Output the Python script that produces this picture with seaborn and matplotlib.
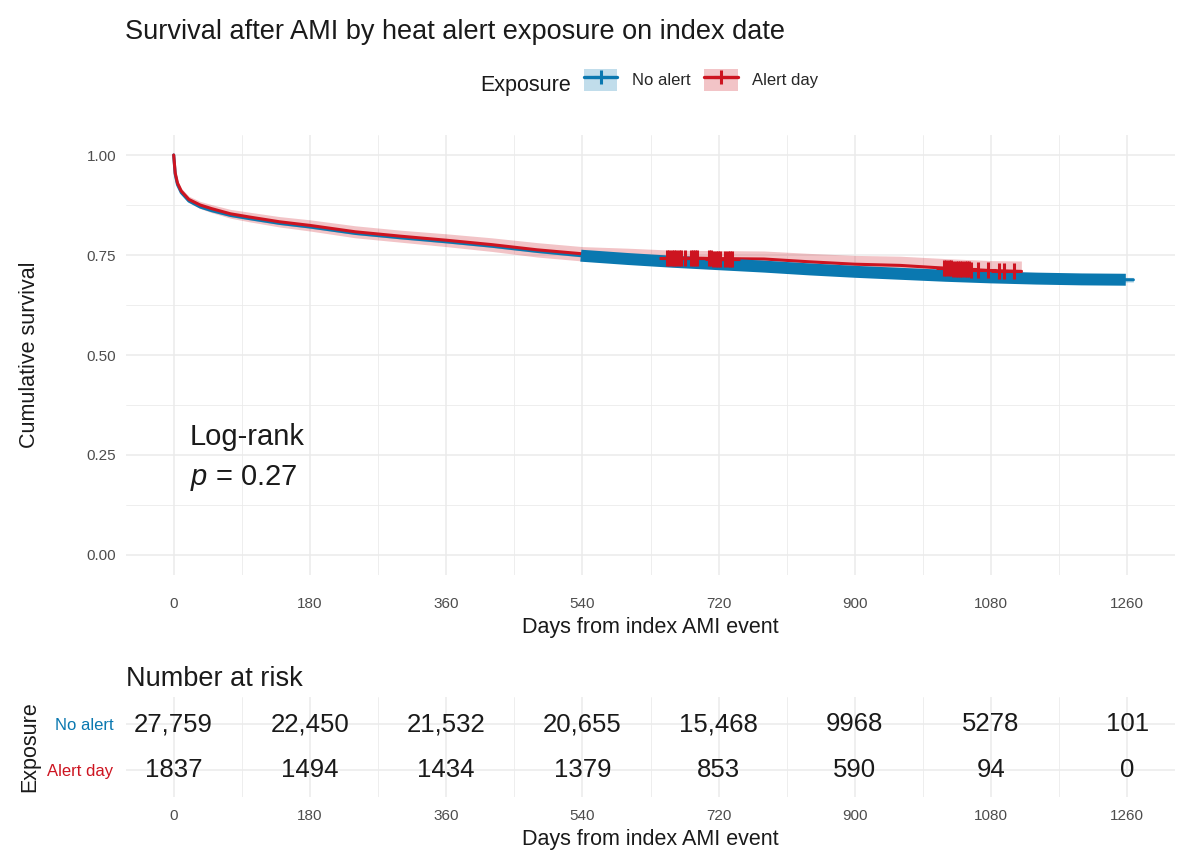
import numpy as np
import matplotlib
matplotlib.use("Agg")
import matplotlib.pyplot as plt
from matplotlib.patches import Patch
from matplotlib.lines import Line2D
import seaborn as sns

# Kaplan-Meier estimates
days_no_alert = [0, 2, 5, 10, 20, 35, 50, 75, 100, 140, 180, 240, 300, 360, 420, 480,
                 540, 600, 660, 720, 780, 840, 900, 960, 1020, 1080, 1140, 1200, 1268]
surv_no_alert = [1.000, 0.952, 0.926, 0.906, 0.885, 0.870, 0.861, 0.849, 0.841, 0.829,
                 0.820, 0.804, 0.793, 0.783, 0.772, 0.759, 0.748, 0.740, 0.733, 0.727,
                 0.721, 0.714, 0.708, 0.703, 0.698, 0.694, 0.691, 0.689, 0.688]
upper_no_alert = [1.000, 0.954, 0.928, 0.908, 0.887, 0.873, 0.864, 0.852, 0.844, 0.832,
                  0.823, 0.807, 0.796, 0.786, 0.775, 0.762, 0.751, 0.744, 0.737, 0.731,
                  0.725, 0.718, 0.712, 0.708, 0.703, 0.699, 0.696, 0.695, 0.694]
lower_no_alert = [1.000, 0.950, 0.924, 0.904, 0.883, 0.867, 0.858, 0.846, 0.838, 0.826,
                  0.817, 0.801, 0.790, 0.780, 0.769, 0.756, 0.745, 0.736, 0.729, 0.723,
                  0.717, 0.710, 0.704, 0.698, 0.693, 0.689, 0.686, 0.683, 0.682]
# dense censoring of the no-alert group (thousands of marks) spans this window
censor_span_no_alert = [538, 1258]

days_alert = [0, 2, 5, 10, 20, 35, 50, 75, 100, 140, 180, 240, 300, 360, 420, 480,
              540, 600, 660, 720, 780, 840, 900, 960, 1020, 1080, 1120]
surv_alert = [1.000, 0.955, 0.930, 0.910, 0.889, 0.875, 0.866, 0.853, 0.845, 0.833,
              0.824, 0.808, 0.797, 0.787, 0.776, 0.763, 0.753, 0.748, 0.743, 0.741,
              0.740, 0.733, 0.727, 0.724, 0.717, 0.711, 0.709]
upper_alert = [1.000, 0.960, 0.936, 0.917, 0.897, 0.884, 0.876, 0.864, 0.857, 0.846,
               0.838, 0.823, 0.812, 0.803, 0.793, 0.781, 0.771, 0.767, 0.762, 0.761,
               0.760, 0.754, 0.749, 0.747, 0.741, 0.736, 0.735]
lower_alert = [1.000, 0.950, 0.924, 0.903, 0.881, 0.866, 0.856, 0.842, 0.833, 0.820,
               0.810, 0.793, 0.782, 0.771, 0.759, 0.745, 0.735, 0.729, 0.724, 0.721,
               0.720, 0.712, 0.705, 0.701, 0.693, 0.686, 0.683]
censor_alert = [652, 655, 658, 661, 664, 667, 670, 676, 683, 686, 689, 692,
                707, 710, 713, 716, 719, 722, 729, 732, 735, 738,
                1018, 1021, 1024, 1027, 1030, 1033, 1036, 1039, 1042, 1045, 1048,
                1051, 1054, 1063, 1076, 1091, 1097, 1110]

# Number at risk table
risk_times = [0, 180, 360, 540, 720, 900, 1080, 1260]
risk_no_alert = [27759, 22450, 21532, 20655, 15468, 9968, 5278, 101]
risk_alert = [1837, 1494, 1434, 1379, 853, 590, 94, 0]

groups = ["No alert", "Alert day"]
colors = {"No alert": "#0A78B0", "Alert day": "#CD1420"}

sns.set_theme(style="whitegrid")
plt.rcParams["font.family"] = ["Liberation Sans", "DejaVu Sans"]
plt.rcParams["mathtext.fontset"] = "custom"
plt.rcParams["mathtext.it"] = "Liberation Sans:italic"
plt.rcParams["mathtext.rm"] = "Liberation Sans"

W, H = 1196, 865
fig = plt.figure(figsize=(W / 100, H / 100), dpi=100)
ax = fig.add_axes([126 / W, 290 / H, 1049 / W, 440 / H])
rax = fig.add_axes([126 / W, 68 / H, 1049 / W, 100 / H])

xticks = list(range(0, 1261, 180))
xminor = list(range(90, 1261, 180))
grid_c = "#EBEBEB"
tick_c = "#4D4D4D"

for a in (ax, rax):
    a.set_facecolor("white")
    for s in a.spines.values():
        s.set_visible(False)
    a.set_xlim(-63, 1323)
    a.set_xticks(xticks)
    a.set_xticks(xminor, minor=True)
    a.grid(which="major", color=grid_c, lw=1.1)
    a.grid(which="minor", color=grid_c, lw=0.6)
    a.set_axisbelow(True)

# --- survival panel
ax.set_ylim(-0.05, 1.05)
ax.set_yticks([0, 0.25, 0.5, 0.75, 1.0])
ax.set_yticks([0.125, 0.375, 0.625, 0.875], minor=True)
ax.set_yticklabels(["0.00", "0.25", "0.50", "0.75", "1.00"])
ax.tick_params(axis="both", which="major", length=4, width=1.1, color="#333333",
               labelsize=11, labelcolor=tick_c, pad=3)
ax.tick_params(axis="x", which="major", pad=11.5)
ax.tick_params(axis="both", which="minor", length=0)

ax.fill_between(days_no_alert, lower_no_alert, upper_no_alert,
                color=colors["No alert"], alpha=0.25, lw=0)
ax.fill_between(days_alert, lower_alert, upper_alert,
                color=colors["Alert day"], alpha=0.25, lw=0)
sns.lineplot(x=days_no_alert, y=surv_no_alert, ax=ax, color=colors["No alert"], lw=2.2)
sns.lineplot(x=days_alert, y=surv_alert, ax=ax, color=colors["Alert day"], lw=2.2)

# dense censor marks of the no-alert group merge into a solid band
band_x = [censor_span_no_alert[0]] + [d for d in days_no_alert
                                       if censor_span_no_alert[0] < d < censor_span_no_alert[1]] \
         + [censor_span_no_alert[1]]
band_y = np.interp(band_x, days_no_alert, surv_no_alert)
ax.plot(band_x, band_y, color=colors["No alert"], lw=8.6, solid_capstyle="butt")

ax.plot(censor_alert, np.interp(censor_alert, days_alert, surv_alert), ls="none",
        marker="+", ms=11, mew=2.2, color=colors["Alert day"])

ax.text(21, 0.295, "Log-rank", fontsize=21, color="#1a1a1a", va="center")
ax.text(21, 0.192, "$p$ = 0.27", fontsize=21, color="#1a1a1a", va="center")

ax.set_xlabel("Days from index AMI event", fontsize=15.5, color="#1a1a1a", labelpad=5)
ax.set_ylabel("Cumulative survival", fontsize=15.5, color="#1a1a1a")
ax.yaxis.set_label_coords(-0.082, 0.5)

# --- risk table
rax.set_ylim(2.6, 0.4)
rax.set_yticks([1, 2])
rax.set_yticklabels(groups)
for lab, g in zip(rax.get_yticklabels(), groups):
    lab.set_color(colors[g])
rax.tick_params(axis="y", which="major", length=0, labelsize=12, pad=9)
rax.tick_params(axis="x", which="major", length=0, labelsize=11, labelcolor=tick_c, pad=9)
rax.tick_params(which="minor", length=0)
rax.yaxis.grid(True, which="major", color=grid_c, lw=1.1)

for row, counts in enumerate([risk_no_alert, risk_alert], start=1):
    for t, n in zip(risk_times, counts):
        txt = f"{n:,}" if n >= 10000 else str(n)
        rax.text(t, row, txt, ha="center", va="center", fontsize=18.5, color="#1a1a1a")

rax.set_xlabel("Days from index AMI event", fontsize=15.5, color="#1a1a1a", labelpad=4)
rax.set_ylabel("Exposure", fontsize=15.5, color="#1a1a1a")
rax.yaxis.set_label_coords(-0.082, 0.5)

fig.text(126 / W, 1 - 686 / H, "Number at risk", fontsize=19.5, color="#1a1a1a",
         va="baseline")
fig.text(125 / W, 1 - 39 / H, "Survival after AMI by heat alert exposure on index date",
         fontsize=19.5, color="#1a1a1a", va="baseline")

# --- legend
handles = [(Patch(facecolor=colors[g], alpha=0.25, lw=0),
            Line2D([], [], color=colors[g], lw=2.4, marker="+", ms=10, mew=2.2))
           for g in groups]
fig.text(480 / W, 1 - 86 / H, "Exposure", fontsize=15.5, color="#1a1a1a", va="center")
fig.legend(handles, groups, loc="center left", bbox_to_anchor=(584 / W, 1 - 80 / H),
           ncol=2, frameon=False, fontsize=12, handlelength=2.0, handleheight=1.7,
           handletextpad=0.85, columnspacing=0.85, borderpad=0, borderaxespad=0)

fig.savefig("out.png", dpi=100)
